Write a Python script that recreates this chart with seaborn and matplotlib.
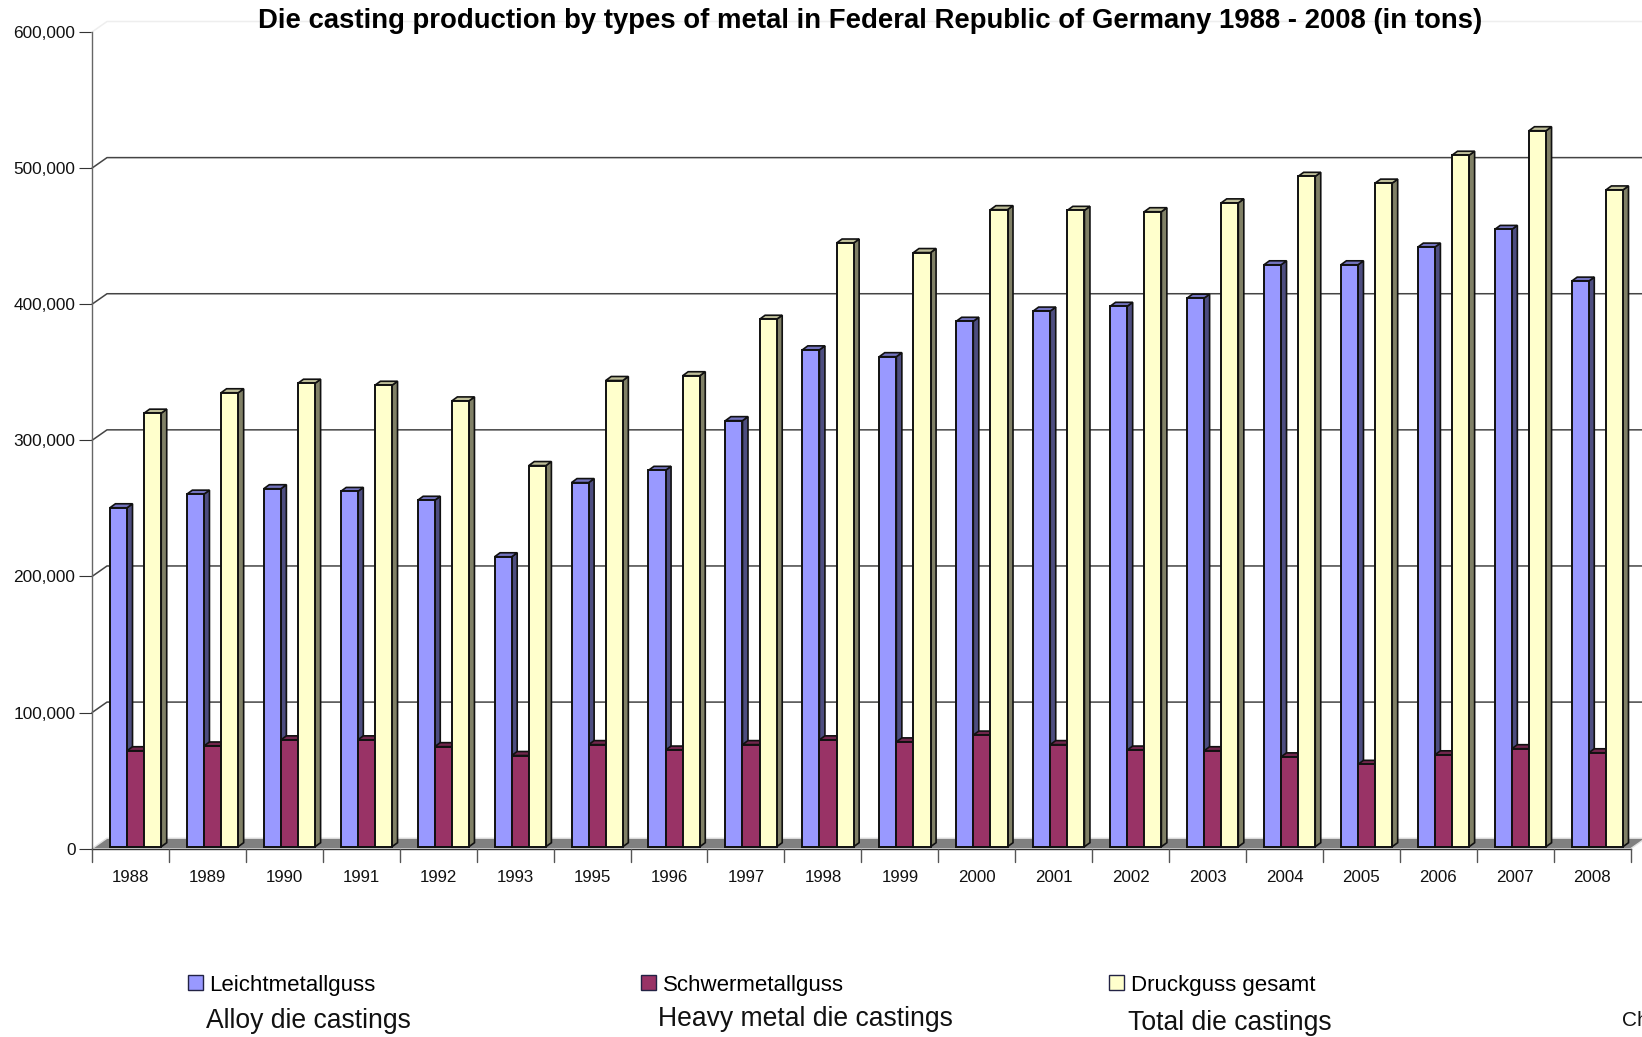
import numpy as np
import pandas as pd
import seaborn as sns
import matplotlib
matplotlib.use("Agg")
import matplotlib.pyplot as plt
from matplotlib.patches import Polygon
from matplotlib.transforms import Affine2D
from matplotlib.ticker import FuncFormatter

years = ["1988","1989","1990","1991","1992","1993","1995","1996","1997","1998",
         "1999","2000","2001","2002","2003","2004","2005","2006","2007","2008"]
leicht = [249000,259000,263000,261000,254500,213000,267500,276500,313000,365000,
          360000,386000,393500,397000,403000,427500,427500,440500,453500,415500]
schwer = [70500,74000,78500,78500,73500,67000,75000,71000,75000,78500,
          77000,82000,75000,71000,70500,66000,60500,67500,72000,69000]
gesamt = [318500,333500,340500,339000,327500,280000,342500,346000,387500,443500,
          436500,468000,467500,466500,473000,492500,487500,508000,526000,482500]
series_names = ["Leichtmetallguss", "Schwermetallguss", "Druckguss gesamt"]
series_values = [leicht, schwer, gesamt]
front_colors = ["#9999FF", "#993366", "#FFFFCC"]
side_colors = ["#4D4D80", "#4D1A33", "#808066"]
top_colors = ["#7373BF", "#73264D", "#BFBF99"]
english = ["Alloy die castings", "Heavy metal die castings", "Total die castings"]
title = "Die casting production by types of metal in Federal Republic of Germany 1988 - 2008 (in tons)"

W, H = 1642, 1037
L, R, B, T = 92.0, 1630.7, 848.7, 32.0

sns.set_style("white")
plt.rcParams["font.family"] = ["Liberation Sans", "DejaVu Sans"]

df = pd.DataFrame({
    "year": years * 3,
    "series": [n for n in series_names for _ in years],
    "tons": leicht + schwer + gesamt,
})

fig = plt.figure(figsize=(W / 100, H / 100), dpi=100, facecolor="white")
ax = fig.add_axes([L / W, 1 - B / H, (R - L) / W, (B - T) / H])
ax.patch.set_alpha(0)

sns.barplot(data=df, x="year", y="tons", hue="series", hue_order=series_names,
            order=years, palette=dict(zip(series_names, front_colors)),
            width=0.667, gap=0, saturation=1, errorbar=None, ax=ax, zorder=5,
            edgecolor="#111111", linewidth=1.4)
ax.set_xlim(-0.5, len(years) - 0.5)
ax.set_ylim(0, 600000)
ax.set_xlabel("")
ax.set_ylabel("")

px_x = 1.0 / ((R - L) / len(years))       # data units per pixel, x
px_y = 600000.0 / (B - T)                 # data units per pixel, y

# back wall and floor
wall_dx, wall_dy = 15 * px_x, 10.5 * px_y
xl, xr = ax.get_xlim()
floor = Polygon([(xl, 0), (xl + wall_dx, wall_dy), (xr + wall_dx, wall_dy), (xr, 0)],
                closed=True, facecolor="#808080", edgecolor="#E2E2E2", linewidth=1.0,
                clip_on=False, zorder=2)
ax.add_patch(floor)
yticks = np.arange(0, 600001, 100000)
for t in yticks[1:]:
    col = "#EEEEEE" if t == 600000 else "#444444"
    ax.plot([xl, xl + wall_dx, xr + wall_dx], [t, t + wall_dy, t + wall_dy],
            color=col, lw=1.1, clip_on=False, zorder=1)

# bars: shifted slightly into the depth, with extruded top and side faces
shift = ax.transData + Affine2D().translate(5.1, 2.0)
depth_x, depth_y = 5.5 * px_x, 4.0 * px_y
for i, cont in enumerate(ax.containers):
    for p in cont.patches:
        x0, x1 = p.get_x(), p.get_x() + p.get_width()
        h = p.get_height()
        p.set_transform(shift)
        p.set_clip_on(False)
        p.set_zorder(5 + 2 * i + 1)
        side = Polygon([(x1, 0), (x1 + depth_x, depth_y), (x1 + depth_x, h + depth_y), (x1, h)],
                       closed=True, facecolor=side_colors[i], edgecolor="#111111", linewidth=1.2,
                       transform=shift, clip_on=False, zorder=5 + 2 * i)
        top = Polygon([(x0, h), (x0 + depth_x, h + depth_y), (x1 + depth_x, h + depth_y), (x1, h)],
                      closed=True, facecolor=top_colors[i], edgecolor="#111111", linewidth=1.2,
                      transform=shift, clip_on=False, zorder=5 + 2 * i)
        ax.add_patch(side)
        ax.add_patch(top)

# axes furniture
sns.despine(ax=ax, top=True, right=True)
ax.spines["left"].set_color("#666666")
ax.spines["bottom"].set_color("#333333")
ax.spines["left"].set_linewidth(1.0)
ax.spines["bottom"].set_linewidth(1.0)
ax.set_yticks(yticks)
ax.yaxis.set_major_formatter(FuncFormatter(lambda v, _: f"{int(v):,}"))
ax.set_xticks(np.arange(len(years)), labels=years)
ax.tick_params(axis="y", length=9.4, width=0.8, color="#333333", pad=2.5, labelsize=12.4,
               left=True, labelcolor="#111111")
ax.tick_params(axis="x", length=0, pad=15, labelsize=12.2, labelcolor="#111111", bottom=False)
for k in range(len(years) + 1):
    ax.plot([k - 0.5, k - 0.5], [0, -13 * px_y], color="#555555", lw=1.0, clip_on=False, zorder=3)

fig.text(870 / W, 1 - 20.5 / H, title, fontsize=19.8, fontweight="bold",
         ha="center", va="center", color="black", zorder=20)

sns.move_legend(ax, "center left", bbox_to_anchor=(188 / W, 1 - 985 / H),
                bbox_transform=fig.transFigure, ncol=3, frameon=False, title=None,
                fontsize=16.0, handlelength=0.67, handleheight=0.67, handletextpad=0.3,
                columnspacing=11.95, borderpad=0, borderaxespad=0)
for h in ax.get_legend().get_patches():
    h.set_edgecolor("#222244")
    h.set_linewidth(1.0)
for t in ax.get_legend().get_texts():
    t.set_color("black")

for x, y, s in zip([206, 658, 1128], [1021, 1019, 1023], english):
    fig.text(x / W, 1 - y / H, s, fontsize=19.1, ha="left", va="center", color="#111111")
fig.text(1622 / W, 1 - 1020 / H, "Ch", fontsize=15, ha="left", va="center", color="#111111")

fig.savefig("out.png", dpi=100, facecolor="white")
